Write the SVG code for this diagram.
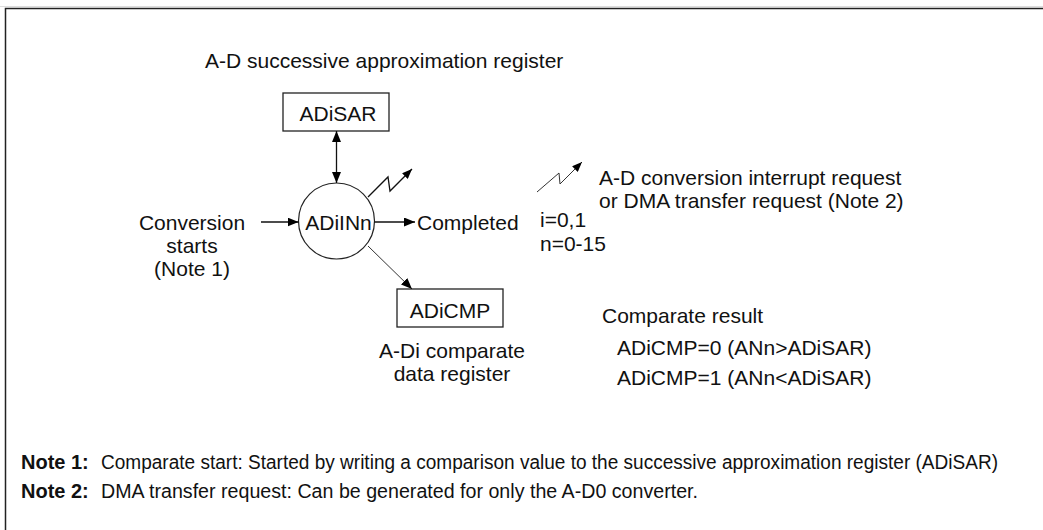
<svg xmlns="http://www.w3.org/2000/svg" width="1043" height="530" viewBox="0 0 1043 530">
<style>
  text { font-family: "Liberation Sans", Arial, sans-serif; font-size: 21px; fill: #111; }
  .note { font-size: 20px; }
  .b { font-weight: bold; }
  .box { fill: #fff; stroke: #222; stroke-width: 1.3; }
  .ln { fill: none; stroke: #111; stroke-width: 1.3; }
  .thin { fill: none; stroke: #333; stroke-width: 1; }
  .mid { text-anchor: middle; }
</style>
<defs>
  <marker id="arr" viewBox="0 0 11 9" markerWidth="11" markerHeight="9" refX="11" refY="4.5" orient="auto-start-reverse" markerUnits="userSpaceOnUse">
    <path d="M0,0 L11,4.5 L0,9 z" fill="#000"/>
  </marker>
  <marker id="arrs" viewBox="0 0 10 8" markerWidth="10" markerHeight="8" refX="10" refY="4" orient="auto" markerUnits="userSpaceOnUse">
    <path d="M0,0 L10,4 L0,8 z" fill="#000"/>
  </marker>
</defs>
<rect width="1043" height="530" fill="#fff"/>
<line x1="0" y1="6.5" x2="1043" y2="6.5" stroke="#ddd" stroke-width="1"/>
<path d="M5.5,530 V8.5 H1043" fill="none" stroke="#222" stroke-width="1.5"/>

<text x="205" y="68">A-D successive approximation register</text>

<g id="adisar">
  <rect class="box" x="283" y="93" width="106" height="38"/>
  <text class="mid" x="338" y="121">ADiSAR</text>
</g>

<g id="adiinn">
  <circle cx="336.5" cy="221" r="38" fill="#fff" stroke="#222" stroke-width="1.2"/>
  <text class="mid" x="338.5" y="230">ADiINn</text>
</g>

<g id="adicmp">
  <rect class="box" x="397" y="289" width="106" height="38"/>
  <text class="mid" x="450" y="318">ADiCMP</text>
  <text class="mid" x="452" y="358">A-Di comparate</text>
  <text class="mid" x="452" y="381">data register</text>
</g>

<g id="start">
  <text class="mid" x="192" y="230">Conversion</text>
  <text class="mid" x="192" y="253">starts</text>
  <text class="mid" x="192" y="276">(Note 1)</text>
</g>

<g id="completed">
  <text x="417" y="230">Completed</text>
</g>

<g id="legend">
  <path class="thin" d="M537,192 L559,173 L560,184 L582,162" marker-end="url(#arrs)"/>
  <text x="599" y="185">A-D conversion interrupt request</text>
  <text x="599" y="208">or DMA transfer request (Note 2)</text>
  <text x="540" y="227">i=0,1</text>
  <text x="540" y="251">n=0-15</text>
</g>

<g id="result">
  <text x="602" y="323">Comparate result</text>
  <text x="617" y="355">ADiCMP=0 (ANn&gt;ADiSAR)</text>
  <text x="617" y="385">ADiCMP=1 (ANn&lt;ADiSAR)</text>
</g>

<g id="connectors">
  <line class="ln" x1="261" y1="222" x2="298.5" y2="222" marker-end="url(#arr)"/>
  <line class="ln" x1="374.5" y1="222" x2="415" y2="222" marker-end="url(#arr)"/>
  <line class="ln" x1="336.5" y1="131" x2="336.5" y2="183" marker-start="url(#arr)" marker-end="url(#arr)"/>
  <line class="thin" x1="368" y1="246" x2="412" y2="289" marker-end="url(#arr)"/>
  <path class="ln" d="M368,197 L388,177 L390,191 L412,169" stroke-width="1.1" marker-end="url(#arrs)"/>
</g>

<g id="notes">
  <text class="note" x="21" y="469"><tspan class="b">Note 1:</tspan></text>
  <text class="note" x="101" y="469" textLength="897" lengthAdjust="spacingAndGlyphs">Comparate start: Started by writing a comparison value to the successive approximation register (ADiSAR)</text>
  <text class="note" x="21" y="498"><tspan class="b">Note 2:</tspan></text>
  <text class="note" x="101" y="498" textLength="597" lengthAdjust="spacingAndGlyphs">DMA transfer request: Can be generated for only the A-D0 converter.</text>
</g>
</svg>
